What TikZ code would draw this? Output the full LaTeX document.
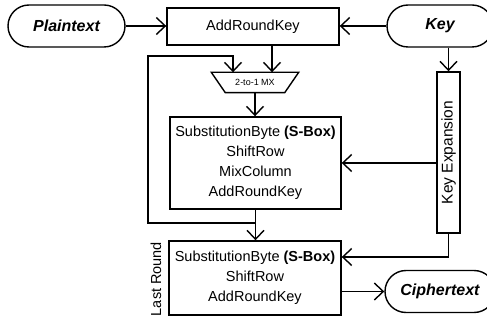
\documentclass[tikz,border=0pt]{standalone}
\usepackage{fontspec}
\setmainfont{Liberation Sans}
\usetikzlibrary{arrows.meta}
\begin{document}
\begin{tikzpicture}[x=1pt,y=-1pt, line width=1.4pt,
  arr/.style={-{Straight Barb[length=9pt,width=17pt]}},
  box/.style={draw, rectangle, inner sep=0pt, align=center, font=\fontsize{14.5}{20}\selectfont},
  pill/.style={draw, rectangle, rounded corners=21pt, inner sep=0pt, minimum height=42pt, font=\fontsize{16}{19}\selectfont\bfseries\itshape},
  lbl/.style={inner sep=0pt, font=\fontsize{14.5}{18}\selectfont}]
\useasboundingbox (0,0) rectangle (487,320);
\clip (0,0) rectangle (487,320);
\node[pill, minimum width=117pt] (plain) at (66.5,26) {Plaintext};
\node[box, minimum width=172pt, minimum height=37pt] (ark) at (253,26.5) {AddRoundKey};
\node[pill, minimum width=106pt] (key) at (440,26) {Key};
\node[minimum width=86pt, minimum height=19pt, inner sep=0pt, font=\fontsize{9}{10}\selectfont] (mux) at (255,82.5) {2-to-1 MX};
\draw (mux.north west) -- (mux.north east) -- ([xshift=-14pt]mux.south east) -- ([xshift=14pt]mux.south west) -- cycle;
\node[box, minimum width=171pt, minimum height=92pt] (round) at (255.5,163) {SubstitutionByte \textbf{(S-Box)}\\ShiftRow\\MixColumn\\AddRoundKey};
\node[box, minimum width=172pt, minimum height=74pt] (last) at (255,278) {SubstitutionByte \textbf{(S-Box)}\\ShiftRow\\AddRoundKey};
\node[box, rotate=90, minimum width=161pt, minimum height=23pt, font=\fontsize{15.5}{18}\selectfont] (kexp) at (448.5,152.5) {Key Expansion};
\node[pill, minimum width=110pt] (ciph) at (440,291.5) {Ciphertext};
\node[lbl, rotate=90] (lr) at (156,279) {Last Round};
\coordinate (lp1) at (148,223);
\coordinate (lp2) at (148,56);
\coordinate (lp3) at (233,56);
\coordinate (kc) at (449,257);
\draw[arr] (plain.east) -- (plain.east -| ark.west);
\draw[arr] (key.west) -- (key.west -| ark.east);
\draw[arr] ([xshift=19pt]ark.south) -- ([xshift=19pt]ark.south |- mux.north);
\draw[arr] (round.south |- lp1) -- (lp1) -- (lp2) -- (lp3) -- (lp3 |- mux.north);
\draw[arr] (mux.south) -- (mux.south |- round.north);
\draw[arr] (round.south) -- (round.south |- last.north);
\draw[arr] (key.south -| kexp.east) -- (kexp.east);
\draw[arr] (kexp.north |- round.east) -- (round.east);
\draw[arr] (kexp.west) -- (kexp.west |- kc) -- (kc -| last.east);
\draw[arr] (last.east |- ciph.west) -- (ciph.west);
\end{tikzpicture}
\end{document}
